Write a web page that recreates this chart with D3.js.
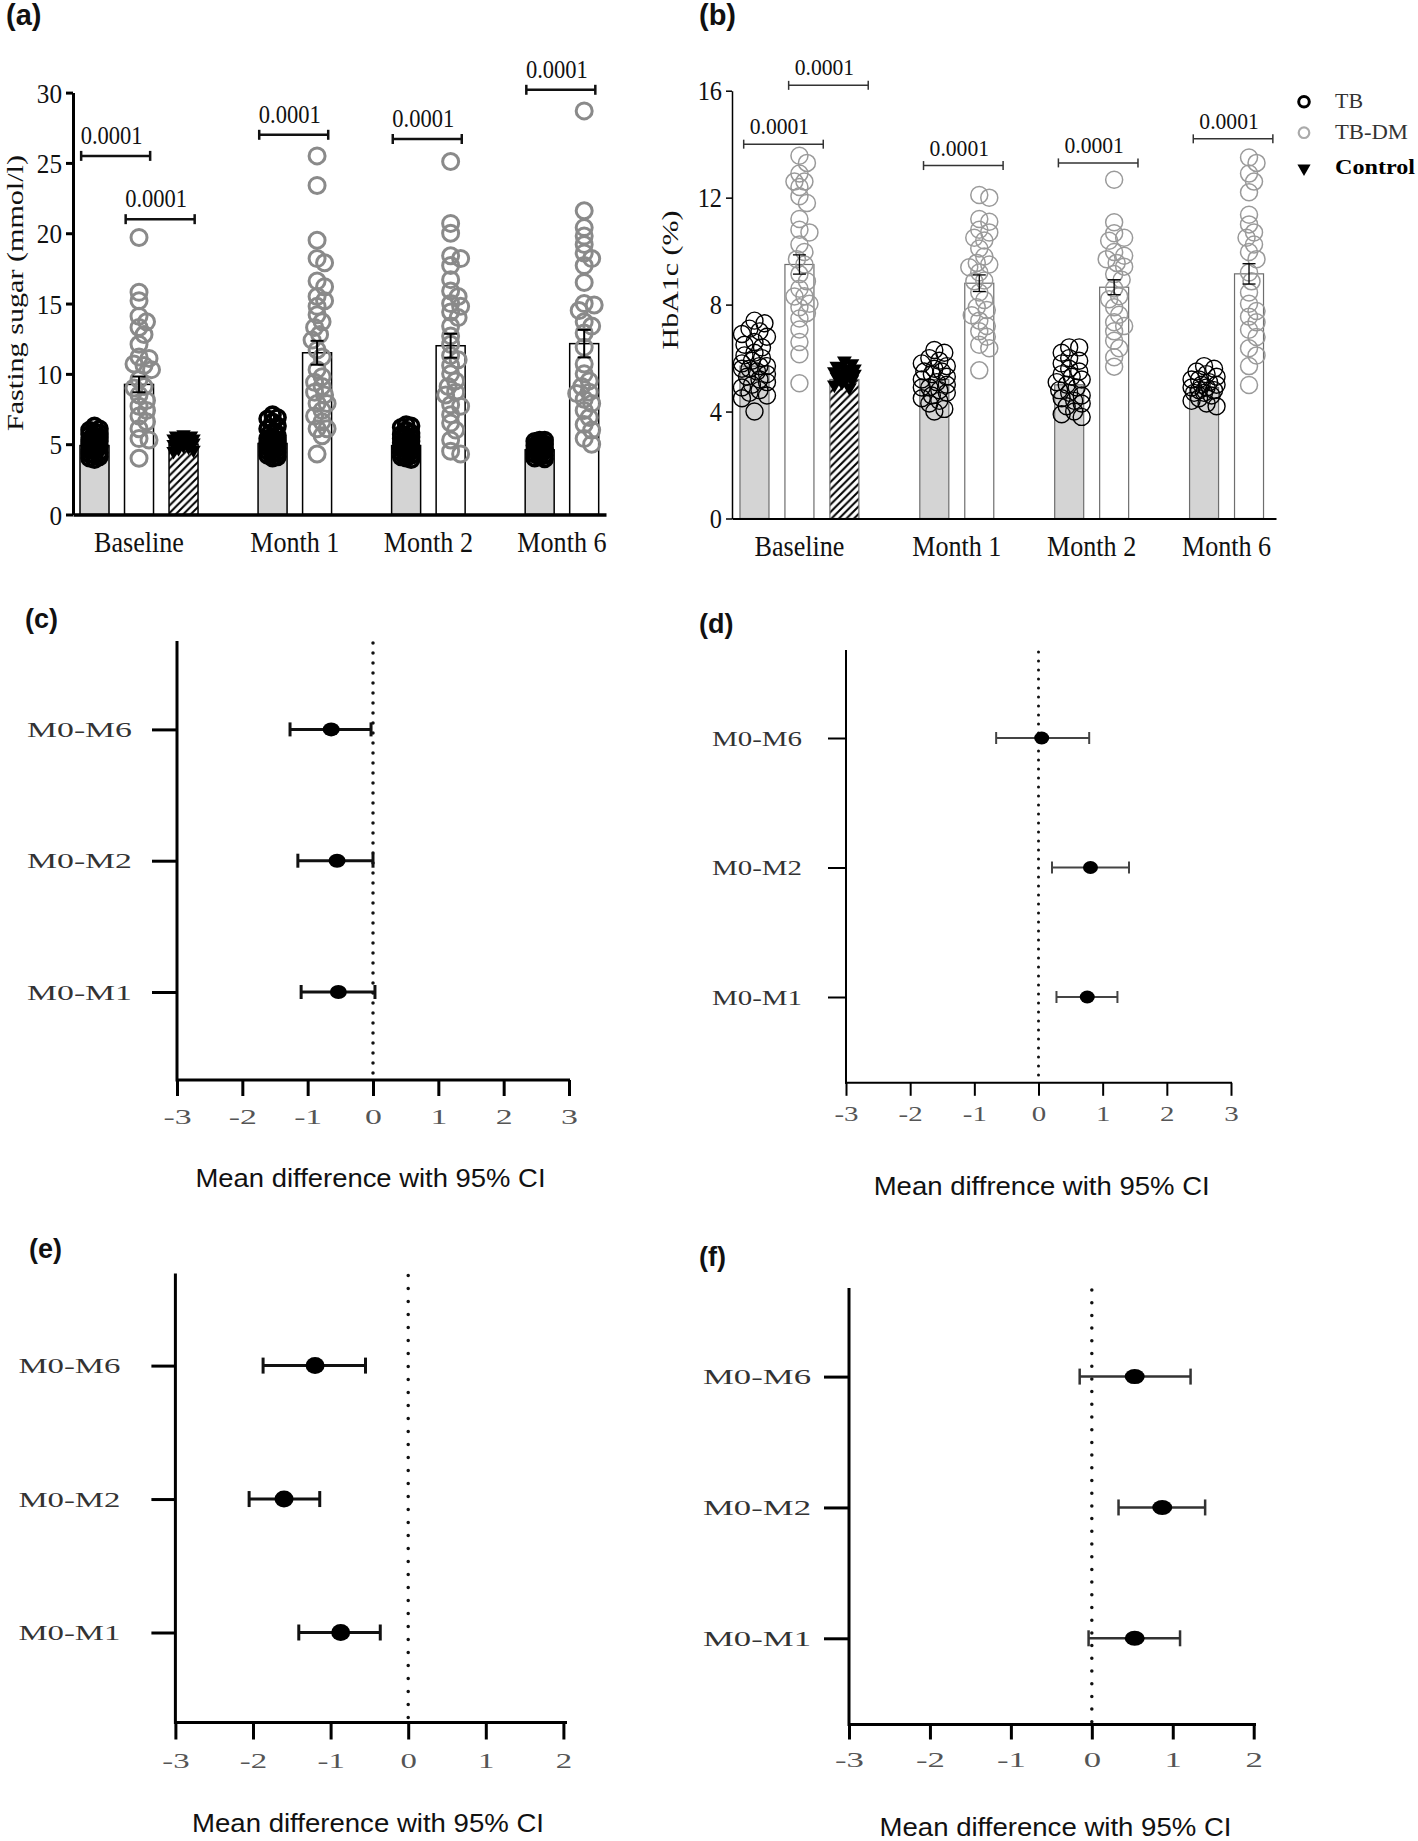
<!DOCTYPE html>
<html><head><meta charset="utf-8">
<script src="https://cdn.jsdelivr.net/npm/d3@7"></script>
<style>body{margin:0;background:#fff}svg{display:block}</style>
</head><body>
<svg id="c" width="1418" height="1841"></svg>
<script>
// ---------------- DATA ----------------
const groups = ["Baseline", "Month 1", "Month 2", "Month 6"];
const seriesNames = ["TB", "TB-DM", "Control"];
const pText = "0.0001";

// (a) Fasting sugar (mmol/l)
const fsTBMean = [4.9, 5.05, 4.9, 4.6];
const fsTBDMMean = [9.25, 11.5, 12.0, 12.15];
const fsTBDMSem = [0.56, 0.85, 0.85, 0.98];
const fsControlMean = [5.0];
const fsTBPts = [
  [6.3,6.1,6.0,5.9,5.8,5.7,5.6,5.5,5.5,5.4,5.3,5.3,5.2,5.1,5.0,5.0,4.9,4.8,4.8,4.7,4.6,4.5,4.4,4.3,4.2,4.1,4.0,3.9],
  [7.1,6.9,6.8,6.6,6.3,6.1,5.9,5.8,5.6,5.5,5.4,5.3,5.2,5.1,5.0,5.0,4.9,4.8,4.7,4.6,4.5,4.4,4.3,4.2,4.1,4.0],
  [6.4,6.3,6.2,6.0,5.8,5.7,5.6,5.5,5.4,5.3,5.2,5.1,5.0,4.9,4.9,4.8,4.7,4.6,4.5,4.4,4.3,4.2,4.1,4.0,3.9],
  [5.3,5.3,5.2,5.1,5.0,5.0,4.9,4.9,4.8,4.8,4.7,4.7,4.6,4.6,4.5,4.5,4.4,4.3,4.2,4.1,4.0,3.95]
];
const fsTBDMPts = [
  [19.7,15.8,15.2,14.1,13.7,13.3,12.8,12.1,11.2,11.1,10.7,10.6,10.3,9.6,9.1,9.0,8.5,8.1,7.7,7.4,7.0,6.6,6.1,5.4,5.3,4.0],
  [25.5,23.4,19.5,18.2,17.9,16.6,16.2,15.5,15.2,14.8,14.2,13.7,13.3,12.8,12.4,11.7,11.2,10.3,9.8,9.4,9.1,8.7,8.5,7.9,7.9,7.4,7.0,6.6,6.1,6.1,5.6,4.3],
  [25.1,20.7,20.0,18.4,18.2,17.7,16.7,15.9,15.5,15.0,14.8,14.4,14.0,13.4,12.7,12.1,11.3,11.0,10.6,10.0,9.5,9.1,8.7,8.5,7.8,7.7,7.1,6.5,6.0,5.3,4.5,4.3],
  [28.7,21.6,20.4,19.8,19.2,18.6,18.2,17.7,16.5,15.0,14.9,14.5,13.7,13.4,12.9,11.9,10.7,10.0,9.5,9.1,8.7,8.6,8.2,7.9,7.4,6.9,6.4,6.0,5.4,5.0]
];
const fsControlPts = [[5.7,5.6,5.6,5.5,5.5,5.4,5.4,5.3,5.3,5.2,5.2,5.1,5.0,4.9,4.8,4.7,4.6,4.5]];
const fsTicks = [0, 5, 10, 15, 20, 25, 30];
const fsBracketGroup = [0, 0, 1, 2, 3];
const fsBracketPair = [["TB","TB-DM"],["TB-DM","Control"],["TB","TB-DM"],["TB","TB-DM"],["TB","TB-DM"]];
const fsBracketY = [25.5, 21.0, 27.0, 26.7, 30.2];

// (b) HbA1c (%)
const hbTBMean = [5.7, 5.2, 5.0, 4.9];
const hbTBDMMean = [9.5, 8.8, 8.65, 9.15];
const hbTBDMSem = [0.36, 0.31, 0.28, 0.38];
const hbControlMean = [5.2];
const hbTBPts = [
  [7.4,7.3,7.1,7.0,6.9,6.8,6.6,6.5,6.4,6.2,6.1,6.0,5.9,5.8,5.7,5.7,5.6,5.6,5.5,5.4,5.3,5.2,5.1,5.0,4.9,4.8,4.7,4.6,4.5,4.0],
  [6.3,6.2,6.0,5.9,5.8,5.7,5.6,5.5,5.5,5.4,5.3,5.2,5.1,5.0,4.9,4.9,4.8,4.7,4.6,4.5,4.4,4.3,4.1,4.0],
  [6.4,6.4,6.2,6.0,5.9,5.8,5.6,5.5,5.4,5.3,5.2,5.1,5.0,4.9,4.8,4.7,4.6,4.5,4.4,4.3,4.2,4.0,3.9,3.8],
  [5.7,5.6,5.5,5.4,5.3,5.2,5.2,5.1,5.0,5.0,4.9,4.9,4.8,4.8,4.7,4.7,4.6,4.5,4.4,4.3,4.2]
];
const hbTBDMPts = [
  [13.57,13.3,12.9,12.6,12.6,12.4,12.05,11.8,11.2,10.8,10.7,10.25,9.97,9.7,9.5,9.14,8.87,8.59,8.31,8.3,8.03,7.9,7.69,7.48,7.07,6.6,6.14,5.06],
  [12.1,12.0,11.2,11.1,10.8,10.7,10.5,10.4,10.1,9.8,9.56,9.5,9.4,9.2,8.9,8.87,8.45,8.17,7.9,7.8,7.6,7.4,7.2,7.0,6.8,6.5,6.37,5.54],
  [12.67,11.08,10.67,10.5,10.39,9.97,9.83,9.7,9.56,9.42,9.14,8.93,8.6,8.31,8.2,7.9,7.62,7.34,7.2,7.0,6.65,6.37,6.03,5.68],
  [13.5,13.3,12.9,12.6,12.2,11.36,11.0,10.7,10.5,10.25,9.97,9.7,9.2,8.87,8.45,8.03,7.76,7.55,7.34,7.06,6.79,6.37,6.1,5.7,4.99]
];
const hbControlPts = [[5.9,5.8,5.7,5.6,5.6,5.5,5.5,5.4,5.4,5.3,5.3,5.2,5.1,5.0,4.9]];
const hbTicks = [0, 4, 8, 12, 16];
const hbBracketGroup = [0, 0, 1, 2, 3];
const hbBracketPair = [["TB","TB-DM"],["TB-DM","Control"],["TB","TB-DM"],["TB","TB-DM"],["TB","TB-DM"]];
const hbBracketY = [14.0, 16.2, 13.2, 13.3, 14.2];

// Forest plots (c)-(f)
const comparisons = ["M0-M6", "M0-M2", "M0-M1"];
const cMean = [-0.64, -0.55, -0.53], cLow = [-1.27, -1.15, -1.10], cHigh = [-0.03, 0.00, 0.03];
const dMean = [0.05, 0.81, 0.76],    dLow = [-0.66, 0.21, 0.28],   dHigh = [0.79, 1.41, 1.23];
const eMean = [-1.20, -1.60, -0.87], eLow = [-1.87, -2.05, -1.41], eHigh = [-0.55, -1.14, -0.36];
const fMean = [0.53, 0.87, 0.53],    fLow = [-0.15, 0.33, -0.04],  fHigh = [1.22, 1.40, 1.09];
const ticks6 = [-3, -2, -1, 0, 1, 2, 3];
const ticks5 = [-3, -2, -1, 0, 1, 2];

// ---------------- DRAWING ----------------
const svg = d3.select("#c");
svg.append("rect").attr("width", 1418).attr("height", 1841).attr("fill", "#fff");
const defs = svg.append("defs");
const pat = defs.append("pattern").attr("id", "hatch").attr("patternUnits", "userSpaceOnUse")
  .attr("width", 7.5).attr("height", 7.5);
pat.append("rect").attr("width", 7.5).attr("height", 7.5).attr("fill", "#fff");
pat.append("path").attr("d", "M-1.5,1.5 L1.5,-1.5 M0,7.5 L7.5,0 M6,9 L9,6")
  .attr("stroke", "#000").attr("stroke-width", 2);

const SERIF = "'Liberation Serif','Times New Roman',serif";
const SANS = "'Liberation Sans',Arial,sans-serif";

function stretch(sel, ratio) {
  sel.each(function () {
    const w = this.getComputedTextLength();
    d3.select(this).attr("textLength", w * ratio).attr("lengthAdjust", "spacingAndGlyphs");
  });
}

function panelLetter(txt, x, y, size) {
  svg.append("text").attr("x", x).attr("y", y).text(txt)
    .attr("font-family", SANS).attr("font-weight", "bold").attr("font-size", size).attr("fill", "#111");
}

// deterministic swarm layout (GraphPad-like)
function swarm(values, yScale, r, maxOff) {
  const placed = [];
  const order = values.map((v, i) => i).sort((a, b) => values[b] - values[a]);
  const offs = [0];
  for (let s = 2.5; s <= maxOff + 0.01; s += 2.5) { offs.push(s, -s); }
  const res = new Array(values.length);
  order.forEach(i => {
    const y = yScale(values[i]);
    let best = 0, bestD = -1;
    for (const o of offs) {
      let md = Infinity;
      for (const p of placed) { md = Math.min(md, Math.hypot(p[0] - o, p[1] - y)); }
      if (md >= r * 1.05) { best = o; bestD = Infinity; break; }
      if (md > bestD) { bestD = md; best = o; }
    }
    placed.push([best, y]);
    res[i] = { v: values[i], dx: best, y: y };
  });
  return res;
}

const slotOf = { "TB": [0, 4, 7, 10], "TB-DM": [1, 5, 8, 11], "Control": [2] };

function barPanel(cfg) {
  const g = svg.append("g");
  const x = d3.scaleLinear().domain(cfg.slotDomain).range([cfg.x0, cfg.x1]);
  const y = d3.scaleLinear().domain([0, cfg.yMax]).range([cfg.yBottom, cfg.yTop]);
  const bw = cfg.barW;

  const series = [
    { name: "TB", mean: cfg.tbMean, pts: cfg.tbPts, fill: "#d4d4d4" },
    { name: "TB-DM", mean: cfg.tbdmMean, pts: cfg.tbdmPts, fill: "#fff", sem: cfg.tbdmSem },
    { name: "Control", mean: cfg.ctlMean, pts: cfg.ctlPts, fill: "url(#hatch)" }
  ];
  // bars
  series.forEach(s => {
    g.selectAll(null).data(s.mean).enter().append("rect")
      .attr("x", (d, i) => x(slotOf[s.name][i]) - bw / 2)
      .attr("y", d => y(d)).attr("width", bw).attr("height", d => y(0) - y(d))
      .attr("fill", s.fill).attr("stroke", cfg.barStroke).attr("stroke-width", cfg.barStrokeW);
  });
  // points
  series.forEach(s => {
    s.pts.forEach((vals, gi) => {
      const cx = x(slotOf[s.name][gi]);
      const st = cfg.pointStyle[s.name];
      const lay = swarm(vals, y, st.r, st.maxOff);
      if (s.name === "Control") {
        const tri = d3.symbol().type(d3.symbolTriangle).size(st.size);
        g.selectAll(null).data(lay).enter().append("path")
          .attr("d", tri).attr("transform", d => `translate(${cx + d.dx},${d.y}) rotate(180)`)
          .attr("fill", "#000");
      } else {
        g.selectAll(null).data(lay).enter().append("circle")
          .attr("cx", d => cx + d.dx).attr("cy", d => d.y).attr("r", st.r)
          .attr("fill", "none").attr("stroke", st.color).attr("stroke-width", st.sw);
      }
    });
  });
  // error bars (TB-DM)
  cfg.tbdmMean.forEach((m, i) => {
    const cx = x(slotOf["TB-DM"][i]);
    const se = cfg.tbdmSem[i];
    const eb = g.append("g").attr("stroke", "#000").attr("stroke-width", cfg.ebW);
    eb.append("line").attr("x1", cx).attr("x2", cx).attr("y1", y(m - se)).attr("y2", y(m + se));
    eb.append("line").attr("x1", cx - cfg.capW / 2).attr("x2", cx + cfg.capW / 2).attr("y1", y(m - se)).attr("y2", y(m - se));
    eb.append("line").attr("x1", cx - cfg.capW / 2).attr("x2", cx + cfg.capW / 2).attr("y1", y(m + se)).attr("y2", y(m + se));
  });
  // axes
  const ya = g.append("g").attr("transform", `translate(${cfg.x0},0)`)
    .call(d3.axisLeft(y).tickValues(cfg.ticks).tickSize(cfg.tickLen).tickSizeOuter(0).tickPadding(4));
  ya.select(".domain").attr("stroke", "#000").attr("stroke-width", cfg.axisW);
  ya.selectAll(".tick line").attr("stroke", "#000").attr("stroke-width", cfg.axisW);
  ya.selectAll(".tick text").attr("font-family", SERIF).attr("font-size", cfg.tickFont).attr("fill", "#111")
    .attr("dy", "0.34em");
  stretch(ya.selectAll(".tick text"), cfg.textRatio);
  const xa = g.append("g").attr("transform", `translate(0,${cfg.yBottom})`)
    .call(d3.axisBottom(x).tickValues([]).tickSizeOuter(0));
  xa.select(".domain").attr("stroke", "#000").attr("stroke-width", cfg.xAxisW);
  // category labels
  const grpSlots = [[0, 1, 2], [4, 5], [7, 8], [10, 11]];
  const cl = g.selectAll(null).data(groups).enter().append("text")
    .attr("x", (d, i) => x(d3.mean(grpSlots[i])))
    .attr("y", cfg.catY).attr("text-anchor", "middle").text(d => d)
    .attr("font-family", SERIF).attr("font-size", cfg.catFont).attr("fill", "#111");
  stretch(cl, cfg.textRatio);
  // brackets
  cfg.brGroup.forEach((gi, k) => {
    const pair = cfg.brPair[k];
    const xa1 = x(slotOf[pair[0]][gi] + cfg.brOff[0]);
    const xa2 = x(slotOf[pair[1]][pair[1] === "Control" ? 0 : gi] + cfg.brOff[1]);
    const yy = y(cfg.brY[k]);
    const bg = g.append("g").attr("stroke", cfg.brColor).attr("stroke-width", cfg.brW);
    bg.append("line").attr("x1", xa1).attr("x2", xa2).attr("y1", yy).attr("y2", yy);
    bg.append("line").attr("x1", xa1).attr("x2", xa1).attr("y1", yy - cfg.brCap).attr("y2", yy + cfg.brCap);
    bg.append("line").attr("x1", xa2).attr("x2", xa2).attr("y1", yy - cfg.brCap).attr("y2", yy + cfg.brCap);
    const t = g.append("text").attr("x", (xa1 + xa2) / 2 - 4).attr("y", yy - cfg.pGap)
      .attr("text-anchor", "middle").text(pText)
      .attr("font-family", SERIF).attr("font-size", cfg.pFont).attr("fill", "#111");
    stretch(t, cfg.textRatio);
  });
  // y label
  g.append("text").attr("transform", `translate(${cfg.yLabX},${cfg.yLabY}) rotate(-90)`)
    .attr("text-anchor", "middle").text(cfg.yLabel)
    .attr("font-family", SERIF).attr("font-size", cfg.yLabFont).attr("fill", "#111")
    .attr("textLength", cfg.yLabLen).attr("lengthAdjust", "spacingAndGlyphs");
  return { x, y };
}

// (a)
panelLetter("(a)", 6, 25, 29);
barPanel({
  x0: 73, x1: 606, slotDomain: [-0.483, 11.49], yBottom: 514.5, yTop: 92.6, yMax: 30, barW: 29,
  tbMean: fsTBMean, tbPts: fsTBPts, tbdmMean: fsTBDMMean, tbdmSem: fsTBDMSem, tbdmPts: fsTBDMPts,
  ctlMean: fsControlMean, ctlPts: fsControlPts,
  barStroke: "#000", barStrokeW: 1.5,
  pointStyle: {
    "TB": { r: 7.5, sw: 3.6, color: "#000", maxOff: 5 },
    "TB-DM": { r: 8, sw: 3, color: "#8a8a8a", maxOff: 12.5 },
    "Control": { r: 7, size: 90, maxOff: 10 }
  },
  ebW: 2, capW: 13, ticks: fsTicks, tickLen: 7, axisW: 3, xAxisW: 3.5, tickFont: 28, textRatio: 0.9,
  catY: 552, catFont: 29,
  brGroup: fsBracketGroup, brPair: fsBracketPair, brY: fsBracketY, brOff: [-0.3, 0.25],
  brColor: "#111", brW: 2.5, brCap: 5, pGap: 12, pFont: 25,
  yLabel: "Fasting sugar (mmol/l)", yLabX: 23, yLabY: 293, yLabFont: 23, yLabLen: 276
});

// (b)
panelLetter("(b)", 699, 25, 29);
barPanel({
  x0: 732, x1: 1276, slotDomain: [-0.5, 11.6], yBottom: 518.5, yTop: 90.7, yMax: 16, barW: 29,
  tbMean: hbTBMean, tbPts: hbTBPts, tbdmMean: hbTBDMMean, tbdmSem: hbTBDMSem, tbdmPts: hbTBDMPts,
  ctlMean: hbControlMean, ctlPts: hbControlPts,
  barStroke: "#6e6e6e", barStrokeW: 1.2,
  pointStyle: {
    "TB": { r: 8.5, sw: 1.4, color: "#000", maxOff: 13 },
    "TB-DM": { r: 8.5, sw: 1.5, color: "#9a9a9a", maxOff: 12 },
    "Control": { r: 7, size: 95, maxOff: 11 }
  },
  ebW: 1.3, capW: 13, ticks: hbTicks, tickLen: 6, axisW: 1.5, xAxisW: 2, tickFont: 27, textRatio: 0.9,
  catY: 556, catFont: 29,
  brGroup: hbBracketGroup, brPair: hbBracketPair, brY: hbBracketY, brOff: [-0.24, 0.53],
  brColor: "#333", brW: 1.5, brCap: 4.5, pGap: 10, pFont: 24,
  yLabel: "HbA1c (%)", yLabX: 678, yLabY: 280, yLabFont: 24, yLabLen: 139
});

// legend (b)
const legY = [101.7, 132.7, 168.3];
const lg = svg.append("g");
lg.append("circle").attr("cx", 1304).attr("cy", legY[0]).attr("r", 5.3).attr("fill", "none").attr("stroke", "#000").attr("stroke-width", 3);
lg.append("circle").attr("cx", 1304).attr("cy", legY[1]).attr("r", 5.3).attr("fill", "none").attr("stroke", "#aaa").attr("stroke-width", 2.2);
lg.append("path").attr("d", d3.symbol().type(d3.symbolTriangle).size(75)).attr("transform", `translate(1304,${legY[2]}) rotate(180)`).attr("fill", "#000");
const legText = lg.selectAll(null).data(seriesNames).enter().append("text")
  .attr("x", 1335).attr("y", (d, i) => legY[i] + 6).text(d => d)
  .attr("font-family", SERIF).attr("font-size", 20).attr("fill", (d, i) => i === 2 ? "#000" : "#333")
  .attr("font-weight", (d, i) => i === 2 ? "bold" : "normal");
legText.each(function (d, i) {
  const target = [28, 73, 80][i];
  d3.select(this).attr("textLength", target).attr("lengthAdjust", "spacingAndGlyphs");
});

// ---------- forest plots ----------
function forest(cfg) {
  const g = svg.append("g");
  const x = d3.scaleLinear().domain(cfg.dom).range([cfg.x0, cfg.x1]);
  const y = d3.scalePoint().domain(comparisons).range(cfg.cat);
  // dotted zero line
  g.append("line").attr("x1", x(0)).attr("x2", x(0)).attr("y1", cfg.yTop + 2).attr("y2", cfg.axisY - 2)
    .attr("stroke", "#111").attr("stroke-width", cfg.dotW).attr("stroke-linecap", "round")
    .attr("stroke-dasharray", `0,${cfg.dotGap}`);
  // axes
  const xa = g.append("g").attr("transform", `translate(0,${cfg.axisY})`)
    .call(d3.axisBottom(x).tickValues(cfg.ticks).tickSize(cfg.tickLen).tickSizeOuter(0).tickPadding(cfg.tickPad)
      .tickFormat(d3.format("d")));
  xa.select(".domain").attr("stroke", "#000").attr("stroke-width", cfg.lw)
    .attr("d", `M${cfg.x0 - 1},0H${cfg.axisEnd}`);
  xa.selectAll(".tick line").attr("stroke", "#000").attr("stroke-width", cfg.lw);
  xa.selectAll(".tick text").attr("font-family", SERIF).attr("font-size", 22).attr("fill", "#555")
    .text(d => (d < 0 ? "-" + Math.abs(d) : String(d)));
  g.append("line").attr("x1", cfg.x0).attr("x2", cfg.x0).attr("y1", cfg.yTop).attr("y2", cfg.axisY + cfg.lw / 2)
    .attr("stroke", "#000").attr("stroke-width", cfg.lw);
  const ya = g.append("g").attr("transform", `translate(${cfg.x0},0)`)
    .call(d3.axisLeft(y).tickSize(cfg.catTick).tickPadding(cfg.catPad).tickSizeOuter(0));
  ya.select(".domain").remove();
  ya.selectAll(".tick line").attr("stroke", "#000").attr("stroke-width", cfg.lw);
  const ct = ya.selectAll(".tick text").attr("font-family", SERIF).attr("font-size", 22).attr("fill", "#333");
  const nat = ct.nodes()[0].getComputedTextLength();
  const ratio = cfg.labelW / nat;
  stretch(ct, ratio);
  stretch(xa.selectAll(".tick text"), ratio);
  // error bars + dots
  const rows = comparisons.map((c, i) => ({ c, m: cfg.mean[i], lo: cfg.lo[i], hi: cfg.hi[i] }));
  const eg = g.append("g").attr("stroke", cfg.ebColor).attr("stroke-width", cfg.ebW);
  rows.forEach(r => {
    const yy = y(r.c);
    eg.append("line").attr("x1", x(r.lo)).attr("x2", x(r.hi)).attr("y1", yy).attr("y2", yy);
    eg.append("line").attr("x1", x(r.lo)).attr("x2", x(r.lo)).attr("y1", yy - cfg.capH).attr("y2", yy + cfg.capH);
    eg.append("line").attr("x1", x(r.hi)).attr("x2", x(r.hi)).attr("y1", yy - cfg.capH).attr("y2", yy + cfg.capH);
  });
  g.selectAll(null).data(rows).enter().append("ellipse")
    .attr("cx", d => x(d.m)).attr("cy", d => y(d.c)).attr("rx", cfg.rx).attr("ry", cfg.ry).attr("fill", "#000");
  // title
  g.append("text").attr("x", cfg.titleX).attr("y", cfg.titleY).attr("text-anchor", "middle")
    .text(cfg.title).attr("font-family", SANS).attr("font-size", 26).attr("fill", "#111")
    .attr("textLength", cfg.titleW).attr("lengthAdjust", "spacingAndGlyphs");
}

panelLetter("(c)", 25, 628, 27);
forest({ x0: 177, x1: 569, axisEnd: 570, dom: [-3, 3], ticks: ticks6, axisY: 1080, yTop: 641, cat: [729.4, 992],
  mean: cMean, lo: cLow, hi: cHigh, labelW: 105, catTick: 25, catPad: 20, tickLen: 16, tickPad: 12,
  lw: 3, dotW: 3.5, dotGap: 10, ebW: 3, ebColor: "#111", capH: 7, rx: 8.5, ry: 7,
  title: "Mean difference with 95% CI", titleX: 370.5, titleY: 1186.7, titleW: 350 });

panelLetter("(d)", 699, 633, 27);
forest({ x0: 846, x1: 1231, axisEnd: 1232, dom: [-3, 3], ticks: ticks6, axisY: 1082.8, yTop: 650, cat: [738, 997],
  mean: dMean, lo: dLow, hi: dHigh, labelW: 90, catTick: 18, catPad: 26, tickLen: 13, tickPad: 10,
  lw: 2, dotW: 3, dotGap: 9, ebW: 2, ebColor: "#444", capH: 6, rx: 7.5, ry: 6.5,
  title: "Mean diffrence with 95% CI", titleX: 1041.7, titleY: 1194.6, titleW: 336 });

panelLetter("(e)", 29, 1258, 27);
forest({ x0: 175.4, x1: 563.4, axisEnd: 567, dom: [-3, 2], ticks: ticks5, axisY: 1722.5, yTop: 1273.6, cat: [1365.6, 1632.5],
  mean: eMean, lo: eLow, hi: eHigh, labelW: 102, catTick: 24, catPad: 31, tickLen: 17, tickPad: 13,
  lw: 3, dotW: 3.5, dotGap: 13, ebW: 3, ebColor: "#111", capH: 8, rx: 9.5, ry: 8.5,
  title: "Mean difference with 95% CI", titleX: 368, titleY: 1831.6, titleW: 352 });

panelLetter("(f)", 699, 1266, 27);
forest({ x0: 849, x1: 1253.7, axisEnd: 1256, dom: [-3, 2], ticks: ticks5, axisY: 1724.5, yTop: 1288, cat: [1376.6, 1638.3],
  mean: fMean, lo: fLow, hi: fHigh, labelW: 108, catTick: 25, catPad: 13, tickLen: 15, tickPad: 12,
  lw: 3, dotW: 3.5, dotGap: 12.7, ebW: 2.5, ebColor: "#333", capH: 8, rx: 10, ry: 7.5,
  title: "Mean difference with 95% CI", titleX: 1055.5, titleY: 1835.7, titleW: 352 });
</script>
</body></html>
